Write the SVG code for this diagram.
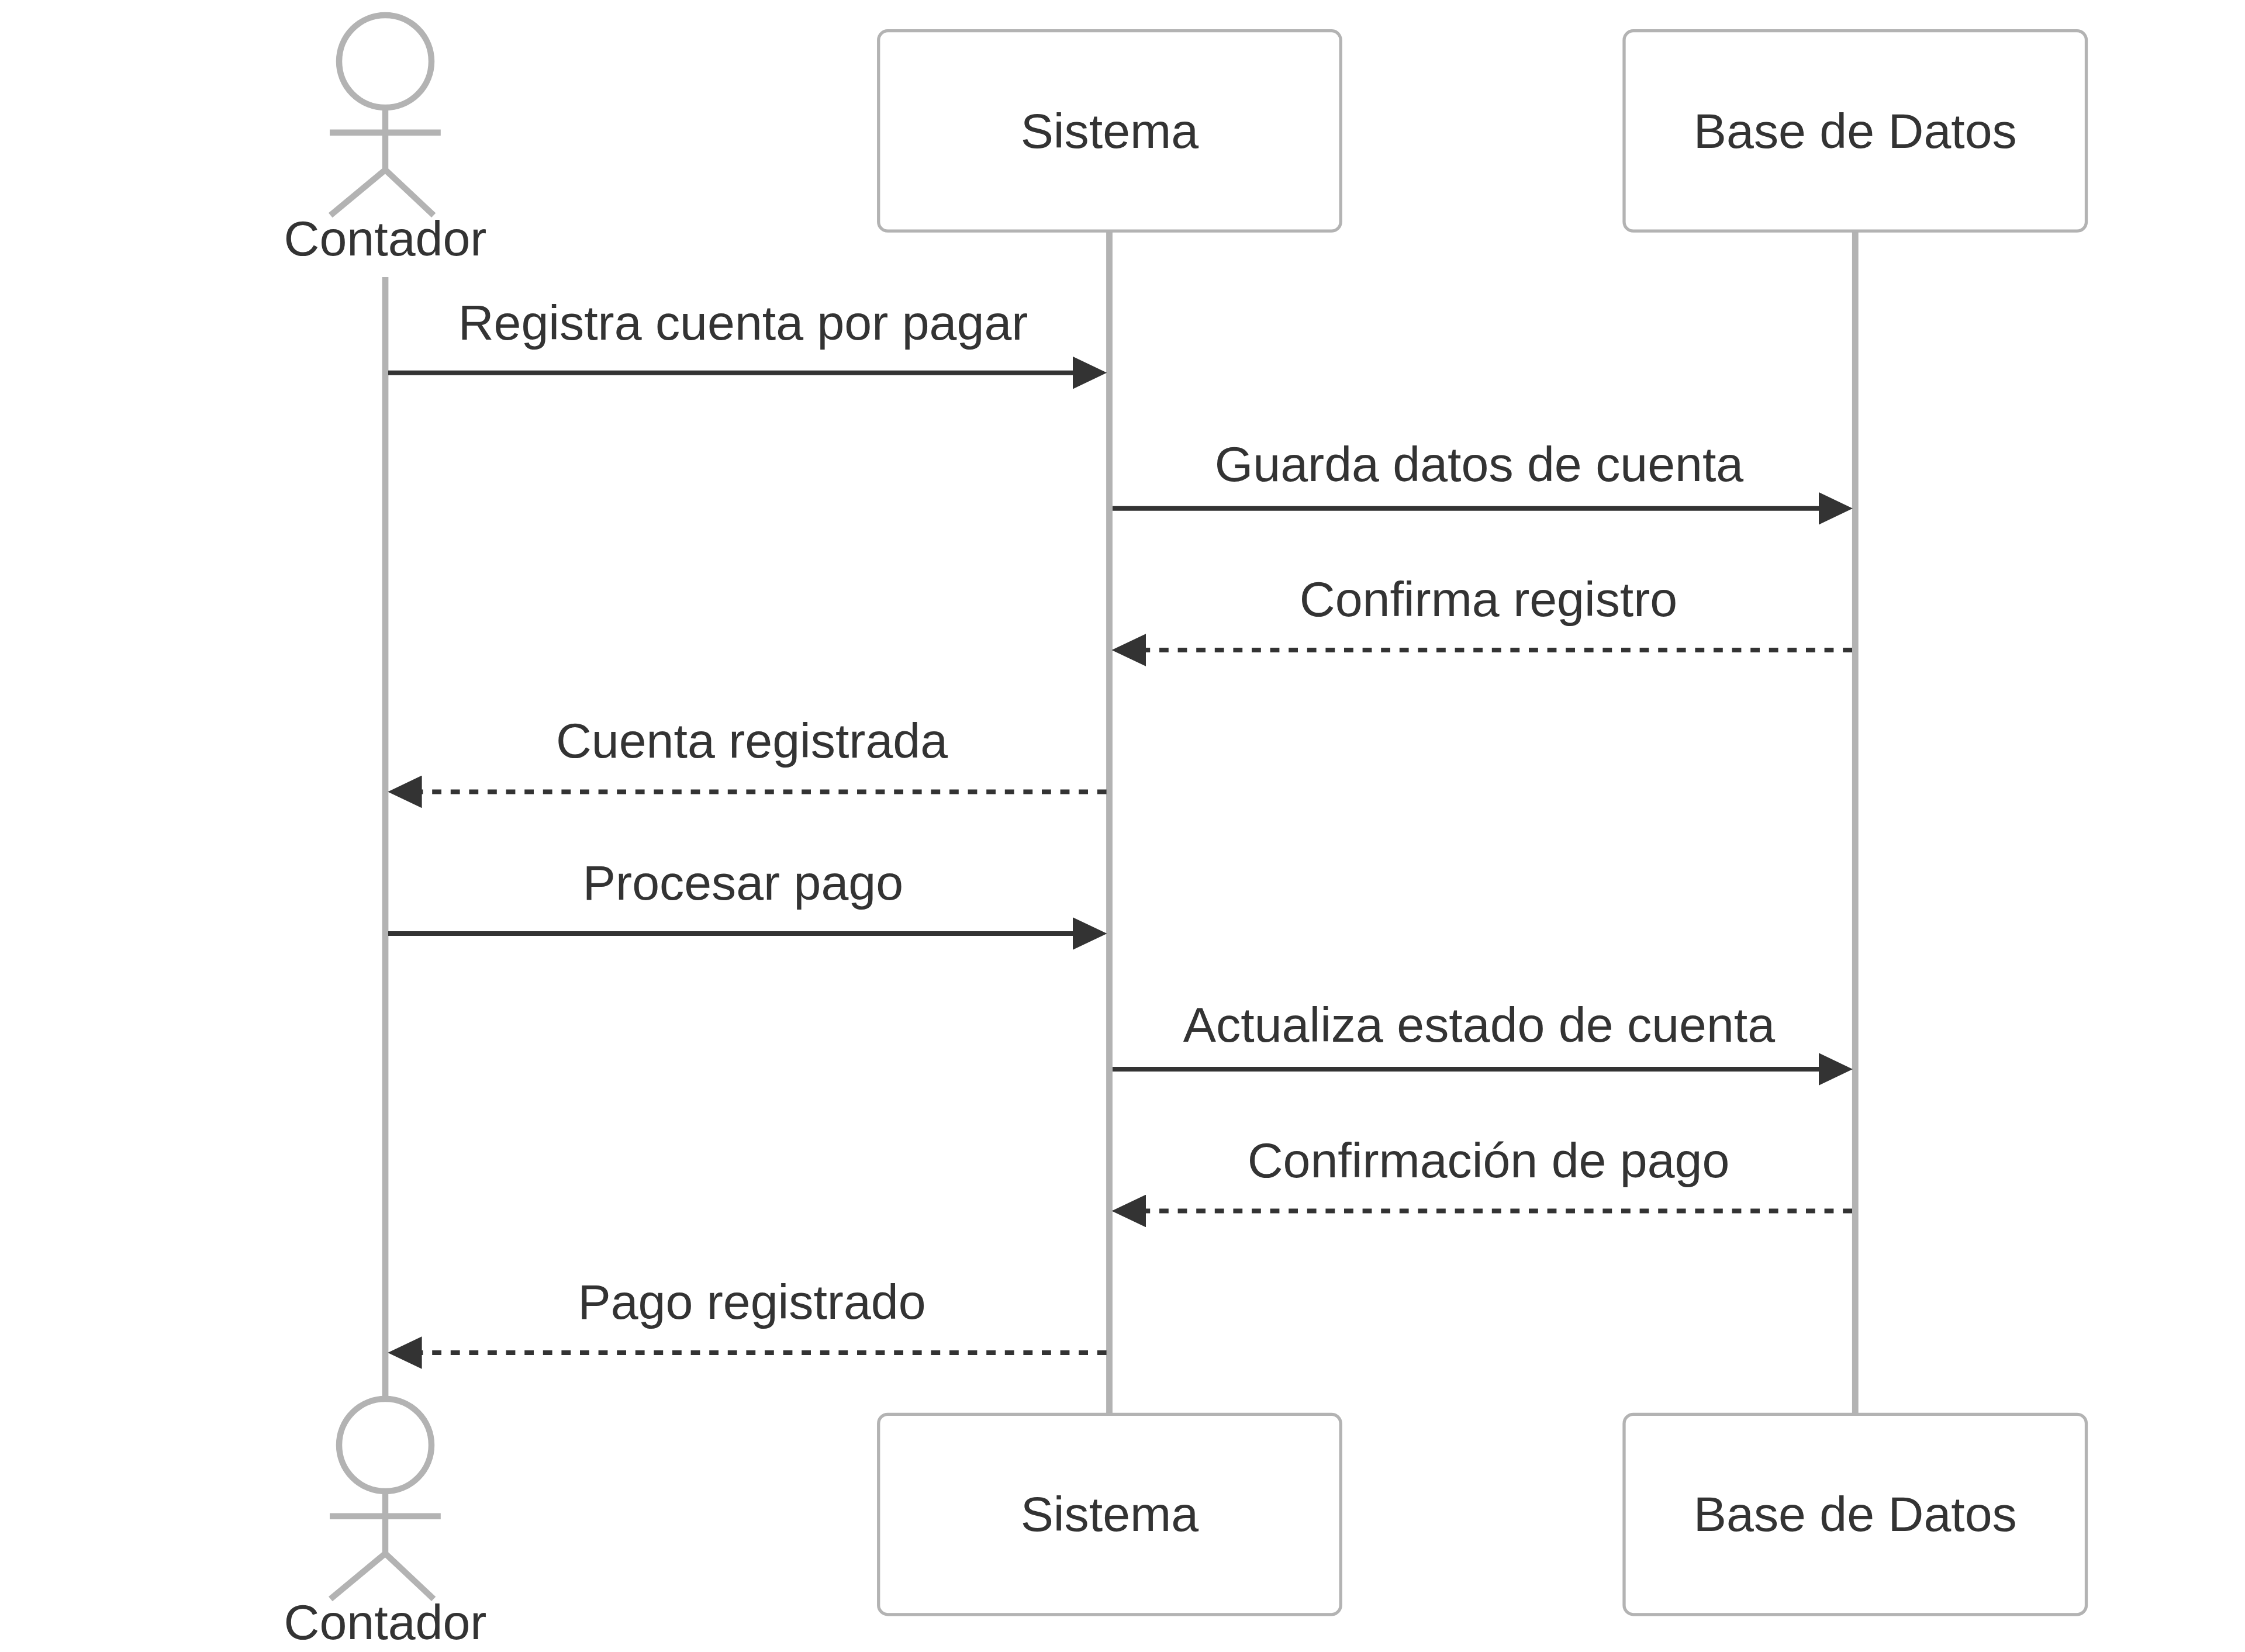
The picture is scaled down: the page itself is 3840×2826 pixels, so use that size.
<svg xmlns="http://www.w3.org/2000/svg" width="3840" height="2826" viewBox="0 0 3840 2826">
<style>
text{font-family:"Liberation Sans",Arial,sans-serif;font-size:84.3px;fill:#333;text-anchor:middle}
.box{fill:#fff;stroke:#b3b3b3;stroke-width:5.3}
.stick{fill:#fff;stroke:#b3b3b3;stroke-width:10.5}
.life{stroke:#b3b3b3;stroke-width:10.8}
.msg{stroke:#333;stroke-width:8;fill:none;marker-end:url(#arrow)}
.dash{stroke-dasharray:15.8 15.8}
</style>
<defs>
<marker id="arrow" markerUnits="userSpaceOnUse" viewBox="0 0 58.3 55.7" markerWidth="58.3" markerHeight="55.7" refX="48.3" refY="27.85" orient="auto"><path d="M0 0L58.3 27.85L0 55.7z" fill="#333"/></marker>
<g id="stickman"><circle class="stick" cx="659" cy="105" r="79"/><path class="stick" d="M659 184V290.5M564 226.8H753.8M659 290.5L565.3 368.3M659 290.5L741.7 368.3" fill="none"/></g>
</defs>
<rect width="3840" height="2826" fill="#fff"/>
<g id="connectors">
<path class="life" d="M659 474V2390"/>
<path class="life" d="M1897.5 395V2420"/>
<path class="life" d="M3173.3 395V2420"/>
<path class="msg" d="M664 637.7H1883.3"/>
<path class="msg" d="M1903 869.7H3159"/>
<path class="msg dash" d="M3168 1112H1911.7"/>
<path class="msg dash" d="M1892.6 1354.4H673.3"/>
<path class="msg" d="M664 1597H1883.3"/>
<path class="msg" d="M1903 1829H3159"/>
<path class="msg dash" d="M3168 2071.5H1911.7"/>
<path class="msg dash" d="M1892.6 2314H673.3"/>
<text x="1271" y="581">Registra cuenta por pagar</text>
<text x="2530" y="823">Guarda datos de cuenta</text>
<text x="2546" y="1054">Confirma registro</text>
<text x="1286" y="1296">Cuenta registrada</text>
<text x="1271" y="1539">Procesar pago</text>
<text x="2530" y="1782">Actualiza estado de cuenta</text>
<text x="2546" y="2014">Confirmación de pago</text>
<text x="1286" y="2256">Pago registrado</text>
</g>
<g id="actor-contador-top"><use href="#stickman"/><text x="659" y="437">Contador</text></g>
<g id="actor-contador-bottom"><use href="#stickman" y="2367"/><text x="659" y="2804">Contador</text></g>
<g id="sistema-top"><rect class="box" x="1502.7" y="52.7" width="790.5" height="342.5" rx="15.8"/><text x="1897.9" y="252.7">Sistema</text></g>
<g id="basedatos-top"><rect class="box" x="2778" y="52.7" width="790.5" height="342.5" rx="15.8"/><text x="3173.3" y="252.7">Base de Datos</text></g>
<g id="sistema-bottom"><rect class="box" x="1502.7" y="2419.3" width="790.5" height="342.5" rx="15.8"/><text x="1897.9" y="2619.3">Sistema</text></g>
<g id="basedatos-bottom"><rect class="box" x="2778" y="2419.3" width="790.5" height="342.5" rx="15.8"/><text x="3173.3" y="2619.3">Base de Datos</text></g>
</svg>
